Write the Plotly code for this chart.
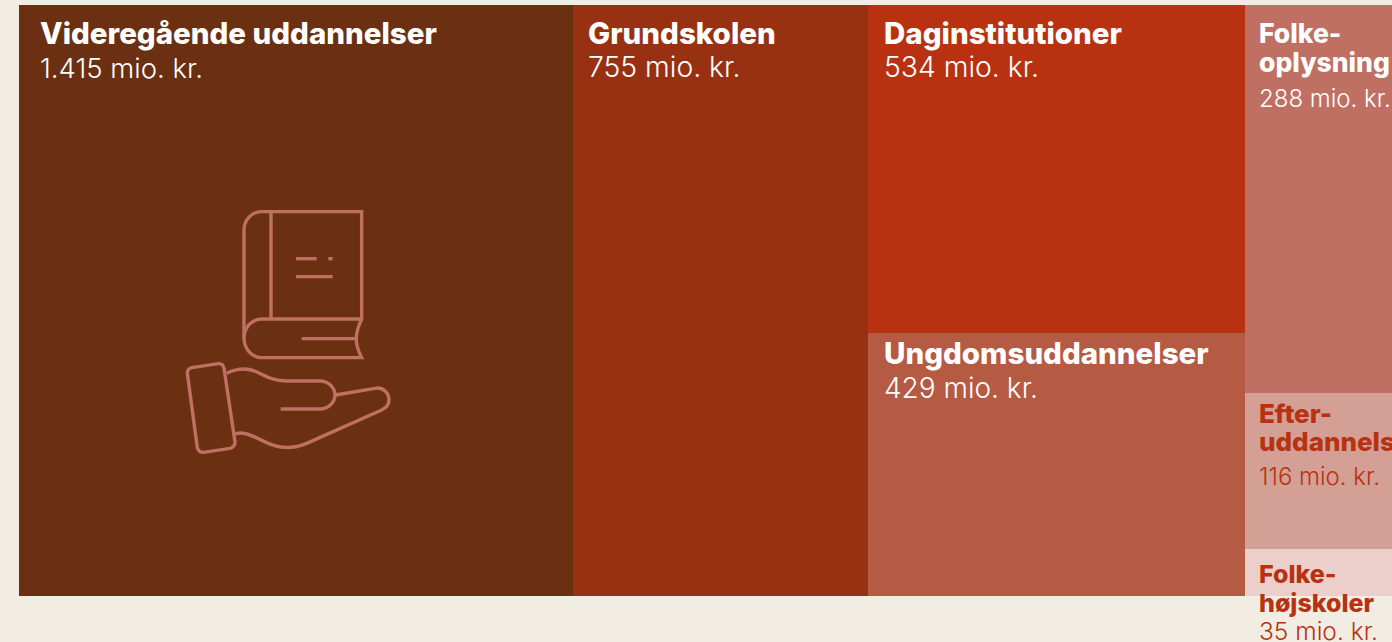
import plotly.graph_objects as go

# --- data (mio. kr.) ---
names = ["Videregående uddannelser", "Grundskolen", "Daginstitutioner", "Ungdomsuddannelser",
         "Folke-\noplysning", "Efter-\nuddannelser", "Folke-\nhøjskoler"]
values = [1415, 755, 534, 429, 288, 116, 35]
value_labels = ["1.415 mio. kr.", "755 mio. kr.", "534 mio. kr.", "429 mio. kr.",
                "288 mio. kr.", "116 mio. kr.", "35 mio. kr."]
columns = [0, 1, 2, 2, 3, 3, 3]

# --- styles ---
fills = ["#6b3011", "#983111", "#b83212", "#b55a43", "#bf7062", "#d49f95", "#eccfca"]
inks = ["#ffffff"] * 5 + ["#b83212"] * 2
pads = [20, 14, 15, 15, 13, 13, 13]
name_sizes = [29.5, 29.5, 29.5, 29.5, 26.5, 26, 25]
value_sizes = [27.5, 28.3, 28.3, 28, 24, 24, 24.5]
# text baselines below each cell's top edge: name line(s), then value
baselines = [(38, 72.5), (38, 72.5), (38, 72.5), (31, 65.5),
             (37, 66, 102), (30, 58, 92), (34, 63, 91)]
BG = "#f1ede2"
ICON = "#bf7062"
FONT = "Inter"
W, H = 1392, 642
L, T, B = 19, 5, 46
PX_PER_UNIT = 0.3912

col_totals = {}
for c, v in zip(columns, values):
    col_totals[c] = col_totals.get(c, 0) + v
col_starts = {}
run = 0
for c in sorted(col_totals):
    col_starts[c] = run
    run += col_totals[c]

fig = go.Figure()
for n, v, c, f in zip(names, values, columns, fills):
    fig.add_trace(go.Bar(
        x=[col_starts[c]], y=[v / col_totals[c]], width=[col_totals[c]], offset=0,
        marker=dict(color=f, line=dict(width=0)), name=n.replace("\n", ""),
        hoverinfo="name", showlegend=False))

annotations = []
seen = {}
for n, vl, v, c, ink, pad, bl, size_n, size_v in zip(names, value_labels, values, columns, inks, pads,
                                                     baselines, name_sizes, value_sizes):
    top = seen.get(c, 0)
    seen[c] = top + v / col_totals[c]
    for line, b in zip(n.split("\n"), bl):
        annotations.append(dict(x=col_starts[c], y=top, xref="x", yref="y", text=line,
                                showarrow=False, xanchor="left", yanchor="top", xshift=pad, yshift=-(b - size_n),
                                font=dict(family=FONT, size=size_n, color=ink, weight=800), borderpad=0))
    annotations.append(dict(x=col_starts[c], y=top, xref="x", yref="y", text=vl,
                            showarrow=False, xanchor="left", yanchor="top", xshift=pad, yshift=-(bl[-1] - size_v),
                            font=dict(family=FONT, size=size_v, color=ink, weight=300), borderpad=0))

# --- decorative icon, traced in page pixels ---
def pt(zx, zy):
    px, py = 170 + zx / 3, 195 + zy / 3
    return (px - L) / (W - L), (H - B - py) / (H - T - B)

def path(cmds):
    out = []
    for cmd in cmds:
        letter, *nums = cmd
        xy = [pt(nums[i], nums[i + 1]) for i in range(0, len(nums), 2)]
        out.append(letter + " " + " ".join(f"{a:.5f},{b:.5f}" for a, b in xy))
    return " ".join(out)

icon_paths = [
    [("M", 275, 50), ("L", 575, 50), ("L", 575, 372), ("L", 275, 372), ("C", 245, 372, 222, 398, 222, 430),
     ("C", 222, 460, 245, 488, 275, 488), ("L", 575, 488), ("C", 555, 450, 552, 420, 575, 372)],
    [("M", 275, 50), ("C", 245, 50, 222, 75, 222, 105), ("L", 222, 430)],
    [("M", 303, 50), ("L", 303, 372)],
    [("M", 378, 191), ("L", 440, 191)],
    [("M", 475, 191), ("L", 488, 191)],
    [("M", 378, 245), ("L", 488, 245)],
    [("M", 395, 431), ("L", 555, 431)],
    [("M", 65, 518), ("L", 145, 506), ("C", 155, 505, 160, 510, 162, 520), ("L", 195, 740),
     ("C", 195, 750, 190, 757, 180, 760), ("L", 100, 772), ("C", 90, 772, 85, 768, 82, 758),
     ("L", 52, 535), ("C", 52, 527, 57, 520, 65, 518), ("Z",)],
    [("M", 170, 535), ("C", 210, 515, 245, 520, 275, 538), ("C", 300, 552, 325, 558, 350, 558), ("L", 450, 558),
     ("C", 475, 558, 495, 578, 495, 600), ("C", 495, 622, 475, 642, 450, 642), ("L", 332, 642)],
    [("M", 497, 600), ("L", 615, 580), ("C", 640, 575, 657, 595, 657, 615), ("C", 657, 630, 645, 640, 635, 645),
     ("L", 410, 745), ("C", 370, 762, 330, 760, 295, 745), ("L", 245, 722), ("C", 225, 712, 210, 712, 195, 717)],
]
shapes = [dict(type="path", xref="paper", yref="paper", path=path(p), layer="above",
               line=dict(color=ICON, width=3.4)) for p in icon_paths]

fig.update_layout(
    width=W, height=H, barmode="stack", bargap=0,
    margin=dict(l=L, r=0, t=T, b=B, pad=0),
    paper_bgcolor=BG, plot_bgcolor=BG,
    xaxis=dict(range=[0, (W - L) / PX_PER_UNIT], visible=False, fixedrange=True),
    yaxis=dict(range=[1, 0], visible=False, fixedrange=True),
    annotations=annotations, shapes=shapes, font=dict(family=FONT),
)
fig.write_html("out.html", config=dict(displayModeBar=False),
               post_script=f"document.body.style.margin='0';document.body.style.background='{BG}';document.body.style.overflow='hidden';")
